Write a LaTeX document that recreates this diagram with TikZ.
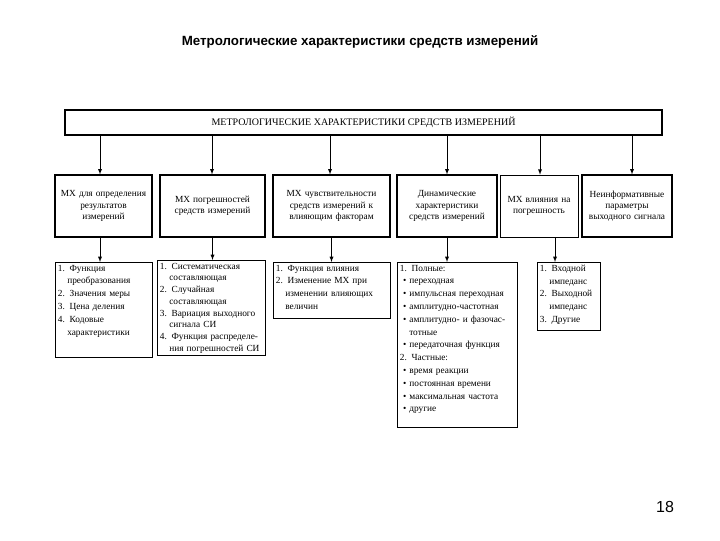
\documentclass[tikz,border=0pt]{standalone}
\usepackage{fontspec}
\setmainfont{Liberation Serif}
\newfontfamily\titlefont{Liberation Sans}
\begin{document}
\begin{tikzpicture}[x=0.75pt,y=-0.75pt,
  hd/.style={draw,thick,align=center,font=\fontsize{7}{8.5}\selectfont,inner sep=2pt},
  ls/.style={align=left,anchor=north west,font=\fontsize{7}{9.6}\selectfont,inner sep=2pt},
  ar/.style={-latex}]
\useasboundingbox (0,0) rectangle (720,540);
\node[font=\titlefont\bfseries\fontsize{10}{12}\selectfont] (t) at (360,42) {Метрологические характеристики средств измерений};
\node[draw,thick,minimum width=597*0.75pt,minimum height=25*0.75pt,font=\fontsize{7.5}{9}\selectfont] (top) at (363.5,122.5) {МЕТРОЛОГИЧЕСКИЕ ХАРАКТЕРИСТИКИ СРЕДСТВ ИЗМЕРЕНИЙ};
\node[hd,minimum width=97*0.75pt,minimum height=62*0.75pt,text width=64pt] (b1) at (103.5,206) {МХ для определения результатов измерений};
\node[hd,minimum width=105*0.75pt,minimum height=62*0.75pt,text width=70pt] (b2) at (212.5,206) {МХ погрешностей средств измерений};
\node[hd,minimum width=117*0.75pt,minimum height=62*0.75pt,text width=82pt] (b3) at (331.5,206) {МХ чувствительности средств измерений к влияющим факторам};
\node[hd,minimum width=100*0.75pt,minimum height=62*0.75pt,text width=66pt] (b4) at (447,206) {Динамические характеристики средств измерений};
\node[draw,align=center,font=\fontsize{7}{8.5}\selectfont,inner sep=2pt,minimum width=78*0.75pt,minimum height=62*0.75pt,text width=54pt] (b5) at (539,206) {МХ влияния на погрешность\\[9pt]};
\node[hd,minimum width=90*0.75pt,minimum height=62*0.75pt,text width=62pt] (b6) at (627,206) {Неинформативные параметры выходного сигнала};
\foreach \i/\x in {1/100,2/212,3/330,4/447,5/540,6/632}
  \draw[ar] (top.south -| \x,0) -- (b\i.north -| \x,0);
\node[ls,text width=68pt] (l1) at (55,262) {1. Функция\\\quad преобразования\\2. Значения меры\\3. Цена деления\\4. Кодовые\\\quad характеристики};
\draw (l1.north west) rectangle ++(97,95);
\node[ls,text width=76pt,font=\fontsize{7}{8.8}\selectfont] (l2) at (157,260) {1. Систематическая\\\quad составляющая\\2. Случайная\\\quad составляющая\\3. Вариация выходного\\\quad сигнала СИ\\4. Функция распределе-\\\quad ния погрешностей СИ};
\draw (l2.north west) rectangle ++(108,95);
\node[ls,text width=84pt] (l3) at (273,262) {1. Функция влияния\\2. Изменение МХ при\\\quad изменении влияющих\\\quad величин};
\draw (l3.north west) rectangle ++(117,56);
\node[ls,text width=86pt] (l4) at (397,262) {1. Полные:\\\ \textbullet\ переходная\\\ \textbullet\ импульсная переходная\\\ \textbullet\ амплитудно-частотная\\\ \textbullet\ амплитудно- и фазочас-\\\quad тотные\\\ \textbullet\ передаточная функция\\2. Частные:\\\ \textbullet\ время реакции\\\ \textbullet\ постоянная времени\\\ \textbullet\ максимальная частота\\\ \textbullet\ другие};
\draw (l4.north west) rectangle ++(120,165);
\node[ls,text width=43pt] (l5) at (537,262) {1. Входной\\\quad импеданс\\2. Выходной\\\quad импеданс\\3. Другие};
\draw (l5.north west) rectangle ++(63,68);
\draw[ar] (b1.south -| 100,0) -- (l1.north -| 100,0);
\draw[ar] (b2.south) -- (l2.north -| b2.south);
\draw[ar] (b3.south) -- (l3.north -| b3.south);
\draw[ar] (b4.south) -- (l4.north -| b4.south);
\draw[ar] (b5.south -| 555,0) -- (l5.north -| 555,0);
\node[font=\titlefont\fontsize{12}{14}\selectfont] (pg) at (665,507) {18};
\end{tikzpicture}
\end{document}
